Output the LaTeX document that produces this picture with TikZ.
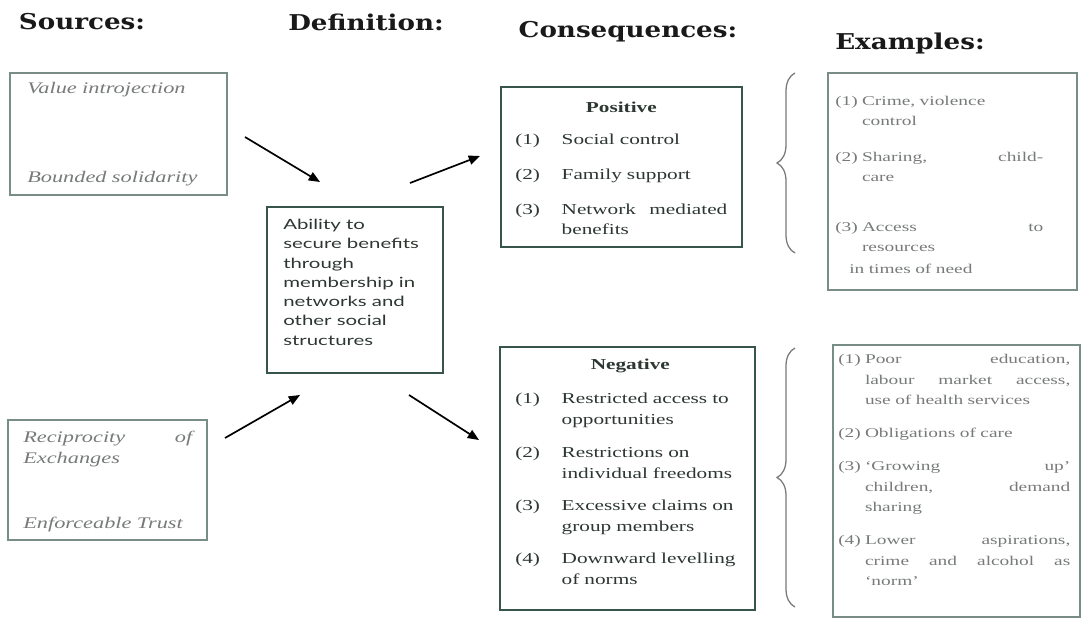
\documentclass[tikz,border=0pt]{standalone}
\usepackage{fontspec}
\usepackage{tikz}
\usepackage{xcolor}
\usetikzlibrary{arrows.meta, fit, decorations.pathreplacing}
\setmainfont{Liberation Serif}
\newfontfamily\headfont[FakeStretch=1.2]{DejaVu Serif}
\newfontfamily\srcfont[FakeStretch=1.38]{Liberation Serif}
\newfontfamily\itemfont[FakeStretch=1.4]{Liberation Serif}
\newfontfamily\exfont[FakeStretch=1.45]{Liberation Serif}
\newfontfamily\deffont[FakeStretch=1.45]{Lato}
\definecolor{boxgreen}{RGB}{55,85,75}
\definecolor{palegreen}{RGB}{120,142,132}
\definecolor{inkgray}{RGB}{45,55,50}
\definecolor{softgray}{RGB}{118,122,120}
\newcommand{\nb}[1]{\makebox[33pt][l]{#1}}
\newcommand{\nx}[1]{\makebox[19pt][l]{#1}}

\begin{document}
\begin{tikzpicture}[x=0.025cm, y=-0.025cm,
    hdr/.style={font=\headfont\bfseries\fontsize{15.5}{18}\selectfont, text=black!90},
    frame/.style={draw=boxgreen, line width=1pt, inner sep=0pt},
    pale/.style={draw=palegreen, line width=0.8pt, inner sep=0pt},
    txt/.style={anchor=north west, inner sep=0pt, align=left},
    arr/.style={-{Triangle[length=8pt,width=6.5pt]}, line width=1.2pt},
    brc/.style={draw=softgray, line width=0.9pt, decorate, decoration={brace, amplitude=0.45cm}}]
  \useasboundingbox (0,0) rectangle (1085,624);
  \node[hdr] (hsrc) at (82,22) {Sources:};
  \node[hdr] (hdef) at (366,22) {Definition:};
  \node[hdr] (hcon) at (628,32) {Consequences:};
  \node[hdr] (hexa) at (910,43) {Examples:};

  \node[pale, fit={(10,73) (227,195)}] (val) {};
  \node[txt, text width=4.3cm, text=softgray, font=\srcfont\itshape\fontsize{11.5}{14}\selectfont] (valtxt) at (27,82)
    {Value introjection\\[49pt]Bounded solidarity};
  \node[pale, fit={(8,420) (207,540)}] (rec) {};
  \node[txt, text width=4.225cm, text=softgray, font=\srcfont\itshape\fontsize{11.5}{15}\selectfont] (rectxt) at (23,431)
    {Reciprocity\hfill of\\Exchanges\\[31pt]Enforceable Trust};

  \node[frame, fit={(267,207) (443,373)}] (def) {};
  \node[txt, text=inkgray, font=\deffont\fontsize{10}{13.7}\selectfont] (deftxt) at (283,219)
    {Ability to\\secure benefits\\through\\membership in\\networks and\\other social\\structures};

  \node[frame, fit={(501,87) (742,247)}] (pos) {};
  \node[txt, text width=5.3cm, text=inkgray, font=\itemfont\fontsize{10.8}{14.2}\selectfont] (postxt) at (515,102)
    {\hfill\textbf{Positive}\hfill\null\\[8.6pt]
     \nb{(1)}Social control\\[10.7pt]
     \nb{(2)}Family support\\[10.7pt]
     \nb{(3)}Network\hfill mediated\\
     \hspace*{33pt}benefits};

  \node[frame, fit={(500,347) (755,610)}] (neg) {};
  \node[txt, text width=5.75cm, text=inkgray, font=\itemfont\fontsize{10.8}{15}\selectfont] (negtxt) at (515,359)
    {\hfill\textbf{Negative}\hfill\null\\[9pt]
     \nb{(1)}Restricted access to\\\hspace*{33pt}opportunities\\[8pt]
     \nb{(2)}Restrictions on\\\hspace*{33pt}individual freedoms\\[8pt]
     \nb{(3)}Excessive claims on\\\hspace*{33pt}group members\\[8pt]
     \nb{(4)}Downward levelling\\\hspace*{33pt}of norms};

  \node[pale, fit={(828,73) (1077,290)}] (exa) {};
  \node[txt, text width=5.2cm, text=softgray, font=\exfont\fontsize{9.5}{14.2}\selectfont] (exatxt) at (835,96)
    {\nx{(1)}Crime, violence\\
     \hspace*{19pt}control\\[11.4pt]
     \nx{(2)}Sharing,\hfill child-\\
     \hspace*{19pt}care\\[21.4pt]
     \nx{(3)}Access\hfill to\\
     \hspace*{19pt}resources\\[1.5pt]
     \hspace*{10pt}in times of need};

  \node[pale, fit={(833,345) (1080,617)}] (exb) {};
  \node[txt, text width=5.8cm, text=softgray, font=\exfont\fontsize{9.5}{14.6}\selectfont] (exbtxt) at (838,354)
    {\nx{(1)}Poor\hfill education,\\
     \hspace*{19pt}labour\hfill market\hfill access,\\
     \hspace*{19pt}use of health services\\[8.9pt]
     \nx{(2)}Obligations of care\\[8.9pt]
     \nx{(3)}‘Growing\hfill up’\\
     \hspace*{19pt}children,\hfill demand\\
     \hspace*{19pt}sharing\\[8.9pt]
     \nx{(4)}Lower\hfill aspirations,\\
     \hspace*{19pt}crime\hfill and\hfill alcohol\hfill as\\
     \hspace*{19pt}‘norm’};

  \draw[brc] (795,253) -- (795,73);
  \draw[brc] (795,607) -- (795,348);

  \coordinate (v1) at (245,137);
  \coordinate (v2) at (320,182);
  \coordinate (p1) at (410,183);
  \coordinate (p2) at (480,156);
  \coordinate (r1) at (225,438);
  \coordinate (r2) at (300,395);
  \coordinate (n1) at (409,395);
  \coordinate (n2) at (479,440);
  \draw[arr] (v1) -- (v2);
  \draw[arr] (p1) -- (p2);
  \draw[arr] (r1) -- (r2);
  \draw[arr] (n1) -- (n2);
\end{tikzpicture}
\end{document}
